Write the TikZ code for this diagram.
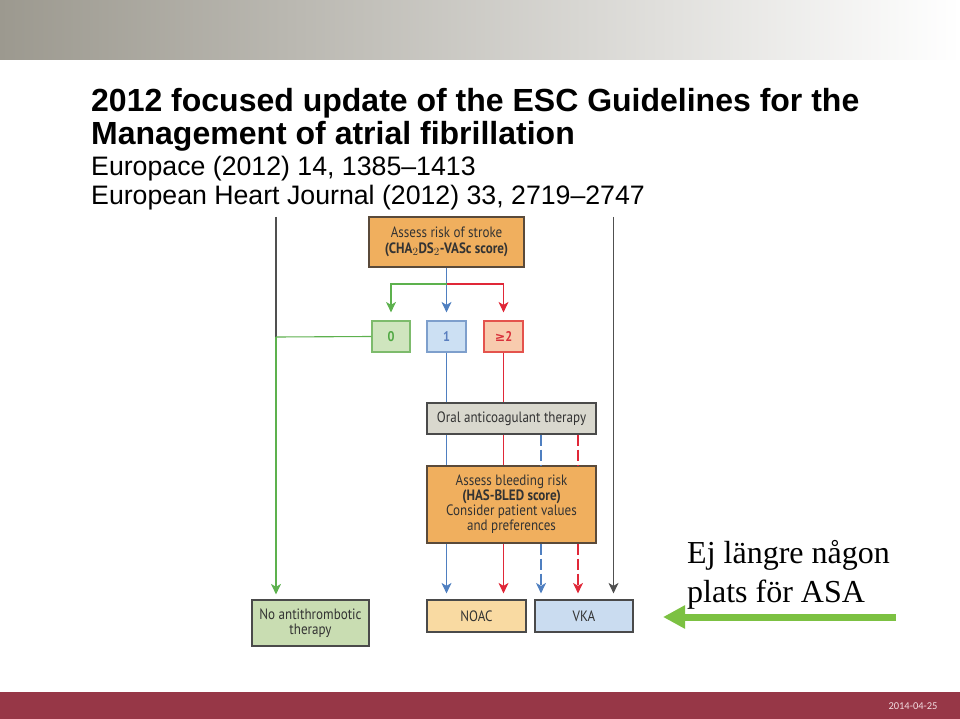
\documentclass[tikz,border=0pt]{standalone}
\usepackage{fontspec}
\setmainfont{Liberation Sans}
\newfontfamily\chartfont[FakeStretch=0.87]{PT Sans}
\newfontfamily\asafont{Liberation Serif}
\newfontfamily\datefont{Carlito}
\newfontfamily\symfont{DejaVu Sans}
\usetikzlibrary{arrows.meta}
\definecolor{bannerL}{HTML}{9C998F}
\definecolor{bannerM}{HTML}{CFCFC9}
\definecolor{barcol}{HTML}{973747}
\definecolor{txt}{HTML}{333333}
\definecolor{orangefill}{HTML}{F0AF5E}
\definecolor{brownline}{HTML}{5A4A3A}
\definecolor{boxline}{HTML}{4A4A4A}
\definecolor{gfill}{HTML}{CFE5BE}
\definecolor{gline}{HTML}{7DBB6C}
\definecolor{gtext}{HTML}{4FA842}
\definecolor{bfill}{HTML}{CCE0F3}
\definecolor{bline}{HTML}{7E9FCC}
\definecolor{btext}{HTML}{5A7FBF}
\definecolor{rfill}{HTML}{F8CBAE}
\definecolor{rline}{HTML}{E4534D}
\definecolor{rtext}{HTML}{D9303A}
\definecolor{oacfill}{HTML}{D9D8CE}
\definecolor{noatfill}{HTML}{C9DDB2}
\definecolor{noacfill}{HTML}{F9DAA2}
\definecolor{vkafill}{HTML}{CADCF0}
\definecolor{greenln}{HTML}{5DB14E}
\definecolor{blueln}{HTML}{4F7FC0}
\definecolor{redln}{HTML}{E02838}
\definecolor{darkln}{HTML}{505050}
\definecolor{bigarrowcol}{HTML}{7CC142}
\definecolor{datecol}{HTML}{F2DCE0}
\tikzset{
  x=1pt, y=-1pt,
  lbl/.style={font=\chartfont\fontsize{15}{15}\selectfont, text=txt, align=center, inner sep=0pt},
  chartbox/.style={lbl, draw=boxline, line width=1.2pt},
  numbox/.style={chartbox, minimum width=39pt, minimum height=31pt, font=\chartfont\bfseries\fontsize{14}{15}\selectfont},
  titlebold/.style={font=\bfseries\fontsize{32}{36}\selectfont, anchor=base west, inner sep=0pt},
  titlereg/.style={font=\fontsize{26.7}{30}\selectfont, anchor=base west, inner sep=0pt},
  asatext/.style={font=\asafont\fontsize{32}{36}\selectfont, anchor=base west, inner sep=0pt},
  conn/.style={line width=1.1pt},
  tip/.style={-{Stealth[width=10pt,length=10.5pt,inset=3pt]}},
  dashconn/.style={conn, dash pattern=on 11pt off 4pt},
}
\begin{document}
\begin{tikzpicture}
\useasboundingbox (0,0) rectangle (960,719);
% banner and bar
\shade[left color=bannerL, middle color=bannerM, right color=white] (0,0) rectangle (960,60);
\fill[barcol] (0,692) rectangle (960,719);
\node[font=\datefont\fontsize{10.5}{12}\selectfont, text=datecol, inner sep=0pt] (date) at (913,706) {2014-04-25};

% title
\node[titlebold] (t1) at (91,112) {2012 focused update of the ESC Guidelines for the};
\node[titlebold] (t2) at (91,145) {Management of atrial fibrillation};
\node[titlereg] (t3) at (91,176) {Europace (2012) 14, 1385--1413};
\node[titlereg] (t4) at (91,205) {European Heart Journal (2012) 33, 2719--2747};

% boxes
\node[chartbox, fill=orangefill, draw=brownline, minimum width=155pt, minimum height=50pt] (stroke) at (446.5,242)
  {Assess risk of stroke\\[1pt]\textbf{(CHA$_2$DS$_2$-VASc score)}};
\node[numbox, fill=gfill, draw=gline, text=gtext, minimum width=38pt] (b0) at (391,336.5) {0};
\node[numbox, fill=bfill, draw=bline, text=btext] (b1) at (446.5,336.5) {1};
\node[numbox, fill=rfill, draw=rline, text=rtext] (b2) at (503.5,336.5) {{\symfont\fontsize{12.5}{14}\selectfont ≥}2};
\node[chartbox, fill=oacfill, minimum width=169pt, minimum height=31pt] (oac) at (511.5,418.5) {Oral anticoagulant therapy};
\node[chartbox, fill=orangefill, draw=brownline, minimum width=169pt, minimum height=77pt] (bleed) at (511.5,504.5)
  {Assess bleeding risk\\\textbf{(HAS-BLED score)}\\Consider patient values\\and preferences};
\node[chartbox, fill=noatfill, minimum width=117pt, minimum height=46pt] (noat) at (310.5,623) {No antithrombotic\\therapy};
\node[chartbox, fill=noacfill, minimum width=99pt, minimum height=32pt] (noac) at (476.5,616) {NOAC};
\node[chartbox, fill=vkafill, minimum width=98pt, minimum height=32pt] (vka) at (584,616) {VKA};

% connectors from stroke box
\coordinate (split) at (446.5,284);
\draw[conn, blueln] (stroke.south) -- (split);
\draw[conn, blueln, tip, shorten >=8pt] (split) -- (b1.north);
\draw[conn, greenln, tip, shorten >=8pt] (split) -| (b0.north);
\draw[conn, redln, tip, shorten >=8pt] (split) -| (b2.north);

% left line
\coordinate (ltop) at (276,217);
\coordinate (ljoin) at (276,337);
\draw[conn, darkln] (ltop) -- (ljoin);
\draw[conn, greenln] (ljoin) -- (b0.west);
\draw[conn, greenln, tip, shorten >=5pt] (ljoin) -- (ljoin |- noat.north);

% right line
\coordinate (rtop) at (613.5,217);
\draw[conn, darkln, tip, shorten >=6pt] (rtop) -- (rtop |- vka.north);

% blue solid path
\draw[conn, blueln] (b1.south) -- (b1.south |- oac.north);
\draw[conn, blueln] (b1.south |- oac.south) -- (b1.south |- bleed.north);
\draw[conn, blueln, tip, shorten >=6pt] (b1.south |- bleed.south) -- (b1.south |- noac.north);
% red solid path
\draw[conn, redln] (b2.south) -- (b2.south |- oac.north);
\draw[conn, redln] (b2.south |- oac.south) -- (b2.south |- bleed.north);
\draw[conn, redln, tip, shorten >=6pt] (b2.south |- bleed.south) -- (b2.south |- noac.north);
% dashed paths
\coordinate (db) at (541,0);
\coordinate (dr) at (578,0);
\draw[dashconn, blueln] (db |- oac.south) -- (db |- bleed.north);
\draw[dashconn, blueln, tip, shorten >=6pt] (db |- bleed.south) -- (db |- vka.north);
\draw[dashconn, redln] (dr |- oac.south) -- (dr |- bleed.north);
\draw[dashconn, redln, tip, shorten >=6pt] (dr |- bleed.south) -- (dr |- vka.north);

% annotation
\node[asatext] (ej1) at (687,563) {Ej längre någon};
\node[asatext] (ej2) at (687,602) {plats för ASA};
\coordinate (gstart) at (896,617);
\coordinate (gend) at (663,617);
\draw[line width=7pt, bigarrowcol, -{Triangle[width=22pt,length=22pt]}] (gstart) -- (gend);
\end{tikzpicture}
\end{document}
